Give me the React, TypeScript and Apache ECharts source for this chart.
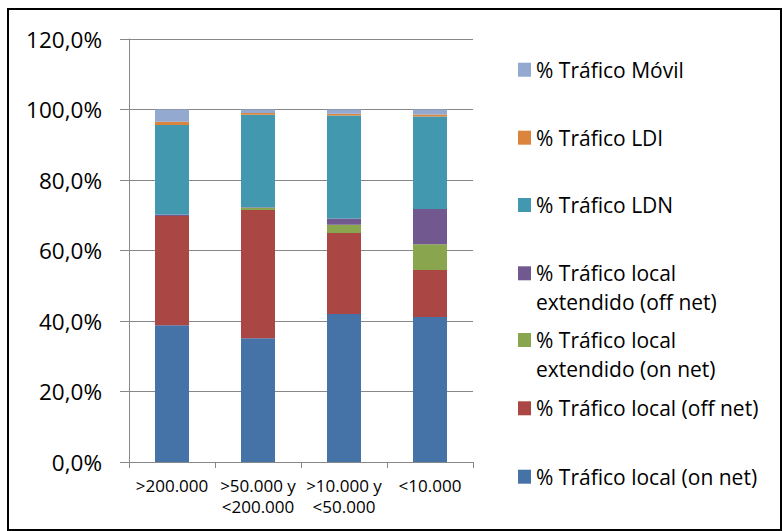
import React, { useEffect, useRef } from "react";
import * as echarts from "echarts";

const categories = [">200.000", ">50.000 y\n<200.000", ">10.000 y\n<50.000", "<10.000"];
const localOnNet = [38.8, 35.1, 42.0, 41.1];
const localOffNet = [31.0, 36.4, 23.0, 13.4];
const extOnNet = [0.0, 0.6, 2.3, 7.3];
const extOffNet = [0.4, 0.2, 1.8, 10.0];
const ldn = [25.4, 26.2, 29.2, 26.2];
const ldi = [0.9, 0.5, 0.5, 0.6];
const movil = [3.5, 1.0, 1.2, 1.4];
const yTicks = { min: 0, max: 120, interval: 20 };

const seriesNames = [
  "% Tráfico local (on net)",
  "% Tráfico local (off net)",
  "% Tráfico local extendido (on net)",
  "% Tráfico local extendido (off net)",
  "% Tráfico LDN",
  "% Tráfico LDI",
  "% Tráfico Móvil",
];
const seriesData = [localOnNet, localOffNet, extOnNet, extOffNet, ldn, ldi, movil];
const colors = ["#4572A7", "#AA4643", "#89A54E", "#71588F", "#4198AF", "#DB843D", "#93A9CF"];

const FONT = "'Open Sans', sans-serif";

export default function App() {
  const ref = useRef<HTMLDivElement>(null);
  useEffect(() => {
    if (!ref.current) return;
    const chart = echarts.init(ref.current, null, { renderer: "svg" });
    // legend icon centers (layout)
    const legendCenters = [476.7, 408.3, 340, 273.3, 205, 137.7, 69.7];
    const lh = 29;
    const legends = seriesNames.map((name, i) => {
      const twoLine = name.indexOf("extendido") >= 0;
      const c = legendCenters[i];
      return {
        data: [name],
        orient: "vertical",
        left: 518,
        top: twoLine ? c - lh * 1.5 : c - lh / 2,
        padding: 0,
        itemWidth: 13,
        itemHeight: 14,
        itemGap: 0,
        icon: "rect",
        selectedMode: false,
        formatter: (n: string) =>
          n.indexOf(" extendido") >= 0 ? "\n" + n.replace(" extendido", "\nextendido") : n,
        textStyle: {
          fontFamily: FONT,
          fontSize: 21,
          lineHeight: lh,
          color: "#000",
        },
      };
    });
    chart.setOption({
      animation: false,
      color: colors,
      legend: legends,
      grid: { left: 129, right: 310, top: 39, bottom: 69, containLabel: false },
      xAxis: {
        type: "category",
        data: categories,
        axisLine: { lineStyle: { color: "#888", width: 1 } },
        axisTick: { show: true, length: 6, lineStyle: { color: "#888" } },
        axisLabel: { fontFamily: FONT, fontSize: 17, lineHeight: 21, margin: 13, color: "#000", interval: 0 },
      },
      yAxis: {
        type: "value",
        min: yTicks.min,
        max: yTicks.max,
        interval: yTicks.interval,
        axisLine: { show: true, lineStyle: { color: "#888", width: 1 } },
        axisTick: { show: true, length: 9, lineStyle: { color: "#888" } },
        splitLine: { lineStyle: { color: "#888", width: 1 } },
        axisLabel: {
          fontFamily: FONT,
          fontSize: 22.5,
          margin: 27,
          color: "#000",
          formatter: (v: number) => v.toFixed(1).replace(".", ",") + "%",
        },
      },
      series: seriesNames.map((name, i) => ({
        name,
        type: "bar",
        stack: "total",
        barWidth: 34,
        data: seriesData[i],
        itemStyle: { color: colors[i] },
      })),
      graphic: [
        {
          type: "rect",
          shape: { x: 8, y: 9, width: 773, height: 521 },
          style: { fill: "none", stroke: "#000", lineWidth: 2 },
          silent: true,
        },
      ],
    });
    return () => chart.dispose();
  }, []);
  return (
    <div
      ref={ref}
      style={{ position: "absolute", left: 0, top: 0, width: 783, height: 531, background: "#fff" }}
    />
  );
}
